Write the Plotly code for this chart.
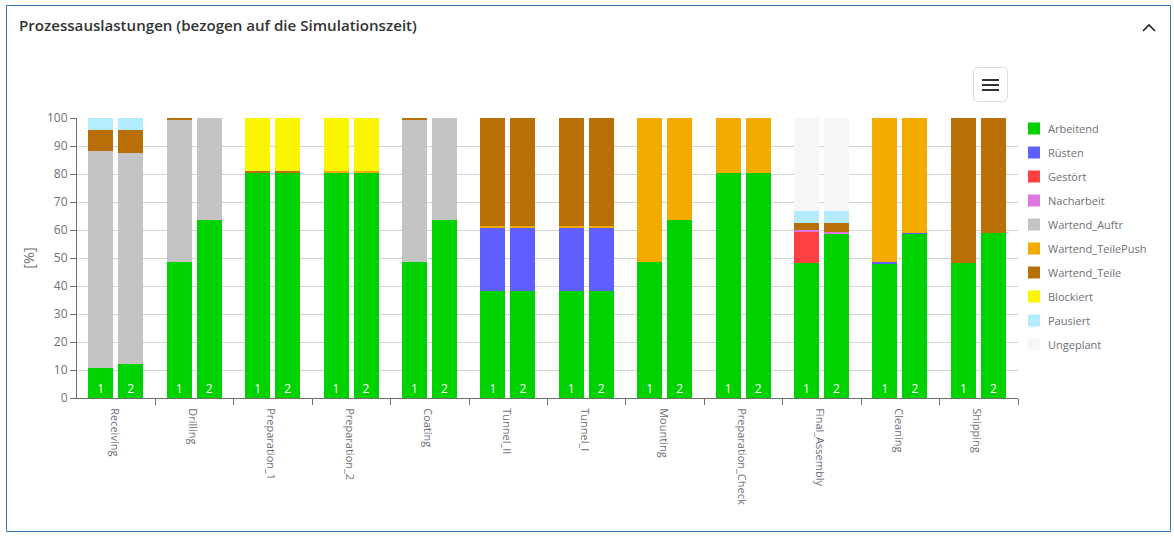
import plotly.graph_objects as go

W, H = 1174, 537
L, R, T, B = 77, 1018, 118, 398

stations = ["Receiving", "Drilling", "Preparation_1", "Preparation_2", "Coating", "Tunnel_II",
            "Tunnel_I", "Mounting", "Preparation_Check", "Final_Assembly", "Cleaning", "Shipping"]
machine_labels = ["1", "2"]

# Each list: two bars per station, in station order
arbeitend = [10.8, 12.2, 48.6, 63.7, 80.4, 80.4, 80.4, 80.4, 48.6, 63.7, 38.2, 38.2,
             38.2, 38.2, 48.6, 63.7, 80.2, 80.2, 48.1, 58.9, 48.0, 58.7, 48.1, 58.9]
ruesten = [0, 0, 0, 0, 0, 0, 0, 0, 0, 0, 22.8, 22.8,
           22.8, 22.8, 0, 0, 0, 0, 0, 0, 0.4, 0.4, 0, 0]
gestoert = [0, 0, 0, 0, 0, 0, 0, 0, 0, 0, 0, 0,
            0, 0, 0, 0, 0, 0, 11.2, 0, 0, 0, 0, 0]
nacharbeit = [0, 0, 0, 0, 0, 0, 0, 0, 0, 0, 0, 0,
              0, 0, 0, 0, 0, 0, 0.7, 0.4, 0, 0, 0, 0]
wartend_auftr = [77.5, 75.4, 51.0, 36.3, 0, 0, 0, 0, 51.0, 36.3, 0, 0,
                 0, 0, 0, 0, 0, 0, 0, 0, 0, 0, 0, 0]
wartend_teilepush = [0, 0, 0, 0, 0, 0, 0.8, 0.8, 0, 0, 0.5, 0.5,
                     0.5, 0.5, 51.4, 36.3, 19.8, 19.8, 0, 0, 51.6, 40.9, 0, 0]
wartend_teile = [7.5, 8.2, 0.4, 0, 0.8, 0.8, 0, 0, 0.4, 0, 38.5, 38.5,
                 38.5, 38.5, 0, 0, 0, 0, 2.5, 3.2, 0, 0, 51.9, 41.1]
blockiert = [0, 0, 0, 0, 18.8, 18.8, 18.8, 18.8, 0, 0, 0, 0,
             0, 0, 0, 0, 0, 0, 0, 0, 0, 0, 0, 0]
pausiert = [4.2, 4.2, 0, 0, 0, 0, 0, 0, 0, 0, 0, 0,
            0, 0, 0, 0, 0, 0, 4.3, 4.3, 0, 0, 0, 0]
ungeplant = [0, 0, 0, 0, 0, 0, 0, 0, 0, 0, 0, 0,
             0, 0, 0, 0, 0, 0, 33.2, 33.2, 0, 0, 0, 0]

series_names = ["Arbeitend", "Rüsten", "Gestört", "Nacharbeit", "Wartend_Auftr",
                "Wartend_TeilePush", "Wartend_Teile", "Blockiert", "Pausiert", "Ungeplant"]
series_values = [arbeitend, ruesten, gestoert, nacharbeit, wartend_auftr,
                 wartend_teilepush, wartend_teile, blockiert, pausiert, ungeplant]
series_colors = ["#00D100", "#5F5FFF", "#FF4040", "#E076E0", "#C4C4C4",
                 "#F4AB00", "#B87006", "#FCF500", "#B3EBFF", "#F7F7F7"]

FONT = "Open Sans, sans-serif"
TXT = "#6E7079"
unit_px = (R - L) / len(stations)
bar_offset = 15 / unit_px
bar_width = 25 / unit_px
nudge = -0.4 / unit_px
x_pos = [i + s * bar_offset + nudge for i in range(len(stations)) for s in (-1, 1)]
bar_text = machine_labels * len(stations)
label_level = 2.7  # height on the value axis at which the machine numbers sit

fig = go.Figure()
for name, vals, col in zip(series_names, series_values, series_colors):
    fig.add_trace(go.Bar(
        name=name, x=x_pos, y=vals, width=bar_width, legendgroup=name,
        marker=dict(color=col, line_width=0),
        hovertemplate=name + ": %{y}<extra></extra>",
    ))
fig.add_trace(go.Scatter(
    x=x_pos, y=[label_level] * len(x_pos), mode="text", text=bar_text, textposition="middle center",
    textfont=dict(color="white", size=12, family=FONT), showlegend=False, hoverinfo="skip",
))


def px(x):
    return (x - L) / (R - L)


def py(y):
    return (B - y) / (B - T)


def shape_path(points, **kw):
    d = "M" + " L".join(f"{px(a):.5f},{py(b):.5f}" for a, b in points)
    return dict(type="path", xref="paper", yref="paper", path=d, **kw)


def rounded_box(x0, y0, x1, y1, r, **kw):
    X, Y = px, py
    d = (f"M{X(x0 + r):.5f},{Y(y0):.5f} L{X(x1 - r):.5f},{Y(y0):.5f} "
         f"Q{X(x1):.5f},{Y(y0):.5f} {X(x1):.5f},{Y(y0 + r):.5f} "
         f"L{X(x1):.5f},{Y(y1 - r):.5f} Q{X(x1):.5f},{Y(y1):.5f} {X(x1 - r):.5f},{Y(y1):.5f} "
         f"L{X(x0 + r):.5f},{Y(y1):.5f} Q{X(x0):.5f},{Y(y1):.5f} {X(x0):.5f},{Y(y1 - r):.5f} "
         f"L{X(x0):.5f},{Y(y0 + r):.5f} Q{X(x0):.5f},{Y(y0):.5f} {X(x0 + r):.5f},{Y(y0):.5f} Z")
    return dict(type="path", xref="paper", yref="paper", path=d, **kw)


shapes = [
    dict(type="rect", xref="paper", yref="paper", x0=px(6.5), x1=px(1170.5), y0=py(531.5), y1=py(5.5),
         line=dict(color="#337AB7", width=1), fillcolor="rgba(0,0,0,0)", layer="below"),
    shape_path([(1143, 31), (1149, 25), (1155, 31)], line=dict(color="#222222", width=1.6)),
    rounded_box(973.5, 67.5, 1007.5, 101.5, 5, line=dict(color="#DDDDDD", width=1), fillcolor="white"),
]
for yy in (80, 85, 90):
    shapes.append(shape_path([(982, yy), (999, yy)], line=dict(color="#333333", width=2)))

fig.update_layout(
    width=W, height=H, autosize=False,
    margin=dict(l=L, r=W - R, t=T, b=H - B, pad=0),
    paper_bgcolor="white", plot_bgcolor="white",
    barmode="stack",
    font=dict(family=FONT, size=11, color=TXT),
    title=dict(text="Prozessauslastungen (bezogen auf die Simulationszeit)",
               x=19 / W, xanchor="left", xref="container", y=1 - 26 / H, yanchor="middle",
               font=dict(family=FONT, size=15.1, color="#333333", weight=600)),
    xaxis=dict(range=[-0.5, len(stations) - 0.5], tickmode="array", tickvals=list(range(len(stations))),
               ticktext=stations, tickangle=90, ticklen=0, showgrid=False, zeroline=False,
               showline=True, linecolor="#707070", linewidth=1,
               ticklabelstandoff=7, ticklabelshift=-2,
               tickfont=dict(size=11, color=TXT, family=FONT),
               minor=dict(tickmode="array", tickvals=[i + 0.5 for i in range(len(stations))],
                          ticks="outside", ticklen=6, tickcolor="#707070", tickwidth=1, showgrid=False)),
    yaxis=dict(range=[0, 100], dtick=10, showline=True, linecolor="#707070", linewidth=1,
               ticks="outside", ticklen=6, tickcolor="#707070", gridcolor="#D3D3D3", gridwidth=1,
               zeroline=False, tickfont=dict(size=12, color=TXT, family=FONT),
               title=dict(text="[%]", font=dict(size=14.5, color=TXT, family=FONT), standoff=8)),
    legend=dict(x=px(1014), xanchor="left", y=py(114), yanchor="top", traceorder="grouped",
                tracegroupgap=5, font=dict(size=11, color=TXT, family=FONT),
                bgcolor="rgba(0,0,0,0)"),
    shapes=shapes,
    showlegend=True,
)
fig.write_html("out.html", config=dict(displayModeBar=False),
               post_script="document.body.style.margin='0';"
                           "document.querySelectorAll('.legendtext').forEach(function(t){t.setAttribute('x','34');});")
